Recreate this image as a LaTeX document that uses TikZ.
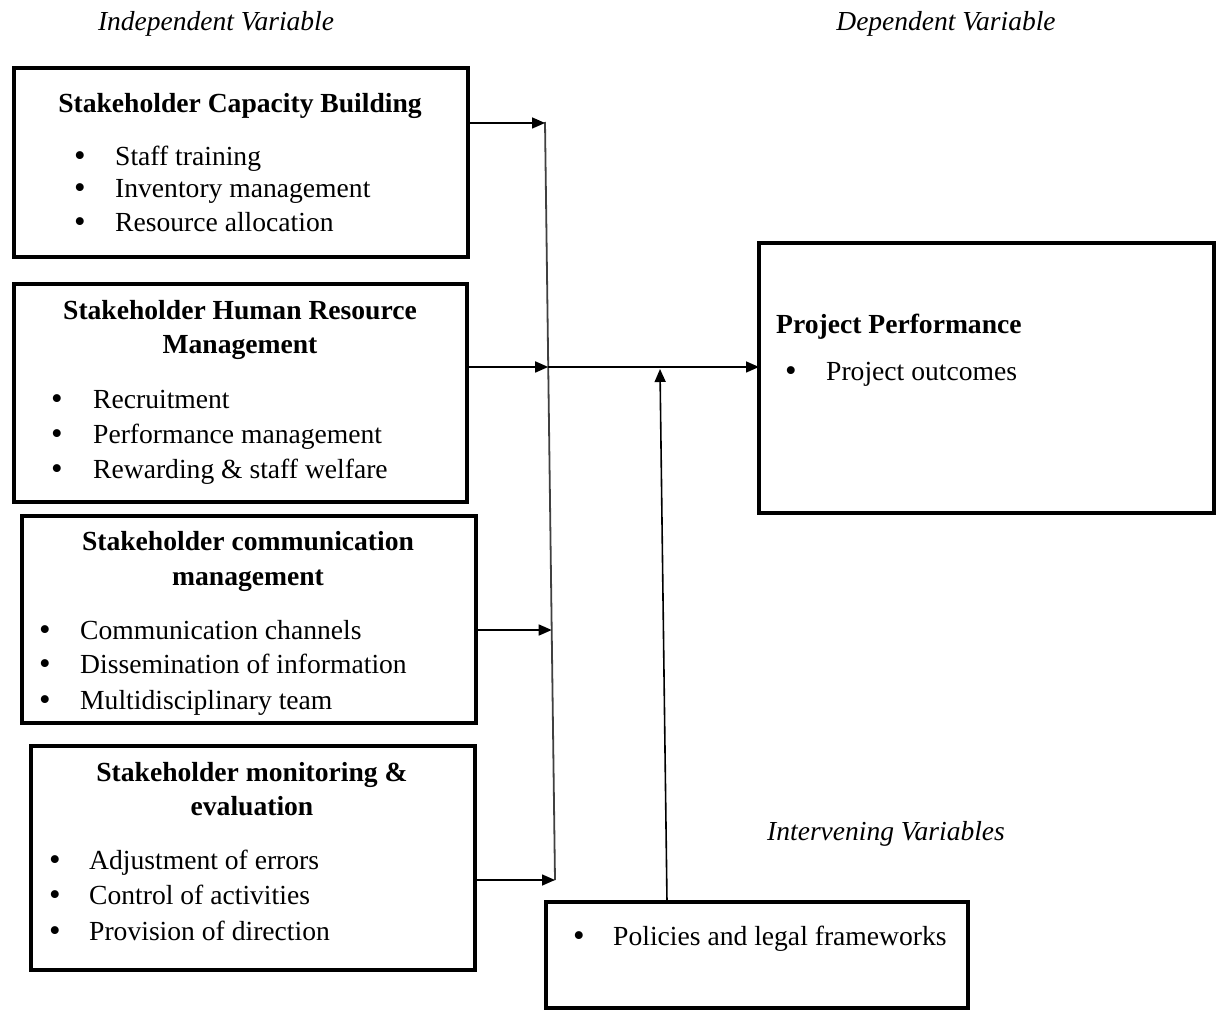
\documentclass[tikz,border=0pt]{standalone}
\usepackage{fontspec}
\setmainfont{Liberation Serif}
\usetikzlibrary{arrows.meta,calc}
\begin{document}
\begin{tikzpicture}[x=1pt,y=-1pt,
  box/.style={draw, line width=4.5pt, anchor=north west, inner sep=0pt, outer sep=0pt},
  txt/.style={anchor=base west, inner sep=0pt, font=\fontsize{27.6}{30}\selectfont},
  bul/.style={anchor=base, inner sep=0pt, font=\fontsize{33}{30}\selectfont},
  ttl/.style={anchor=base, inner sep=0pt, font=\fontsize{27.6}{30}\selectfont\bfseries, align=center},
  hdr/.style={anchor=base, inner sep=0pt, font=\fontsize{27.5}{30}\selectfont\itshape},
  arr/.style={line width=1.6pt, -{Triangle[length=13pt,width=11pt]}},
  vline/.style={line width=1.8pt, draw=black!75}
]
\useasboundingbox (0,0) rectangle (1219,1012);
% headers
\node[hdr] (hIV) at (216,30) {Independent Variable};
\node[hdr] (hDV) at (946,30) {Dependent Variable};
\node[hdr] (hInt) at (886,840) {Intervening Variables};
% boxes
\node[box, minimum width=454pt, minimum height=189pt] (b1) at (14,68) {};
\node[box, minimum width=453pt, minimum height=218pt] (b2) at (14,284) {};
\node[box, minimum width=454pt, minimum height=207pt] (b3) at (22,516) {};
\node[box, minimum width=444pt, minimum height=224pt] (b4) at (31,746) {};
\node[box, minimum width=455pt, minimum height=270pt] (pp) at (759,243) {};
\node[box, minimum width=422pt, minimum height=106pt] (pol) at (546,902) {};
% box 1 text
\node[ttl] (t1) at (240,112) {Stakeholder Capacity Building};
\node[bul] (b1a) at (80,166) {\textbullet};
\node[txt] (b1at) at (115,165) {Staff training};
\node[bul] (b1b) at (80,198) {\textbullet};
\node[txt] (b1bt) at (115,197) {Inventory management};
\node[bul] (b1c) at (80,232) {\textbullet};
\node[txt] (b1ct) at (115,231) {Resource allocation};
% box 2 text
\node[ttl] (t2a) at (240,319) {Stakeholder Human Resource};
\node[ttl] (t2b) at (240,353) {Management};
\node[bul] (b2a) at (57,409) {\textbullet};
\node[txt] (b2at) at (93,408) {Recruitment};
\node[bul] (b2b) at (57,444) {\textbullet};
\node[txt] (b2bt) at (93,443) {Performance management};
\node[bul] (b2c) at (57,479) {\textbullet};
\node[txt] (b2ct) at (93,478) {Rewarding \& staff welfare};
% box 3 text
\node[ttl] (t3a) at (248,550) {Stakeholder communication};
\node[ttl] (t3b) at (248,585) {management};
\node[bul] (b3a) at (45,640) {\textbullet};
\node[txt] (b3at) at (80,639) {Communication channels};
\node[bul] (b3b) at (45,674) {\textbullet};
\node[txt] (b3bt) at (80,673) {Dissemination of information};
\node[bul] (b3c) at (45,710) {\textbullet};
\node[txt] (b3ct) at (80,709) {Multidisciplinary team};
% box 4 text
\node[ttl] (t4a) at (252,781) {Stakeholder monitoring \&};
\node[ttl] (t4b) at (252,815) {evaluation};
\node[bul] (b4a) at (55,870) {\textbullet};
\node[txt] (b4at) at (89,869) {Adjustment of errors};
\node[bul] (b4b) at (55,905) {\textbullet};
\node[txt] (b4bt) at (89,904) {Control of activities};
\node[bul] (b4c) at (55,941) {\textbullet};
\node[txt] (b4ct) at (89,940) {Provision of direction};
% project performance
\node[txt, font=\fontsize{27.6}{30}\selectfont\bfseries] (ppt) at (776,333) {Project Performance};
\node[bul] (ppa) at (791,381) {\textbullet};
\node[txt] (ppat) at (826,380) {Project outcomes};
% policies
\node[bul] (pola) at (579,946) {\textbullet};
\node[txt] (polat) at (613,945) {Policies and legal frameworks};
% vertical collector line
\coordinate (vt) at (545,122);
\coordinate (vb) at (555,880);
\draw[vline] (vt) -- (vb);
\coordinate (a1) at ($(vt)!0.0013!(vb)$);
\coordinate (a2) at ($(vt)!0.3232!(vb)$);
\coordinate (a3) at ($(vt)!0.6702!(vb)$);
\coordinate (a4) at (vb);
\draw[arr] (b1.east |- a1) -- (a1);
\draw[arr] (b2.east |- a2) -- (a2);
\draw[arr] (b3.east |- a3) -- (a3);
\draw[arr] (b4.east |- a4) -- (a4);
\draw[arr] (a2) -- (pp.west |- a2);
\coordinate (up) at (660,369);
\draw[arr] (pol.north -| 667,0) -- (up);
\end{tikzpicture}
\end{document}
